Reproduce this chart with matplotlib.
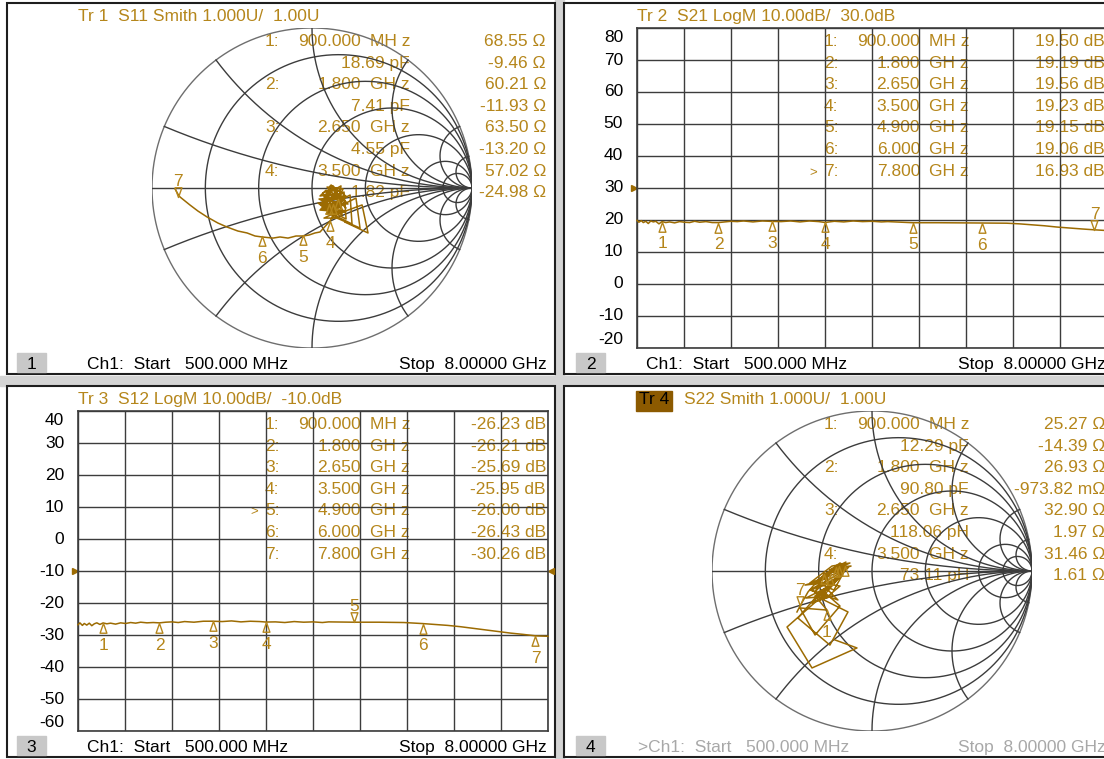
import numpy as np
import matplotlib.pyplot as plt
from matplotlib.patches import Rectangle
from matplotlib.path import Path

plt.rcParams['font.family'] = ['Liberation Sans', 'DejaVu Sans']

W, H = 1104, 759
TXT = '#b5861b'
TRACE = '#9c6b02'
GRID = '#3c3c3c'
FS = 12.5

# marker stimulus, shared by all four traces
marker_freq = [0.9, 1.8, 2.65, 3.5, 4.9, 6.0, 7.8]
freq_text = ['900.000', '1.800', '2.650', '3.500', '4.900', '6.000', '7.800']
freq_unit = ['MH z', 'GH z', 'GH z', 'GH z', 'GH z', 'GH z', 'GH z']

# Tr 1  S11 - marker impedance in ohm (5..7 are off the readout)
s11_mk_r = [68.55, 60.21, 63.50, 57.02, 37.9, 22.4, 4.4]
s11_mk_x = [-9.46, -11.93, -13.20, -24.98, -24.5, -16.6, -1.7]
s11_mk_lc = ['18.69 pF', '7.41 pF', '4.55 pF', '1.82 pF']
s11_re = [0.206, 0.350, 0.313, 0.125, 0.300, 0.275, 0.100, 0.250, 0.238, 0.081,
          0.213, 0.200, 0.069, 0.188, 0.175, 0.063, 0.163,
          0.119, 0.219, 0.044, 0.163, 0.181, 0.081, 0.206, 0.050, 0.150, 0.225,
          0.038, 0.125, 0.194, 0.094, 0.213,
          0.088, 0.050, 0.138, 0.200, 0.113, 0.056, 0.175, 0.144, 0.069, 0.106,
          0.194, 0.094, 0.150, 0.063, 0.106, 0.206, 0.131, 0.075, 0.175, 0.131,
          0.088, 0.194, 0.113, 0.163, 0.075, 0.144, 0.113,
          0.050, 0.019, -0.019, -0.056, -0.100, -0.150, -0.200, -0.244, -0.313, -0.356,
          -0.406, -0.463, -0.531, -0.588, -0.656, -0.713, -0.763, -0.825, -0.838, -0.856]
s11_im = [-0.213, -0.281, -0.106, -0.175, -0.250, -0.063, -0.150, -0.225, -0.044, -0.125,
          -0.194, -0.025, -0.100, -0.169, -0.013, -0.075, -0.069,
          0.019, -0.056, -0.069, -0.131, 0.013, -0.044, -0.150, -0.138, -0.025, -0.100,
          -0.094, -0.163, -0.006, 0.006, -0.125,
          -0.013, -0.050, -0.038, -0.075, 0.013, -0.106, -0.119, 0.000, -0.031, -0.138,
          -0.050, -0.063, -0.150, -0.131, -0.100, -0.106, 0.013, -0.081, -0.088, -0.100,
          -0.163, -0.144, -0.125, -0.188, -0.188, -0.156, -0.206,
          -0.275, -0.281, -0.294, -0.300, -0.300, -0.313, -0.306, -0.313, -0.306, -0.300,
          -0.281, -0.269, -0.244, -0.219, -0.181, -0.144, -0.106, -0.056, -0.038, -0.006]

# Tr 2  S21
s21_freq = [0.5, 0.53, 0.57, 0.6, 0.64, 0.68, 0.72, 0.76, 0.8, 0.85, 0.9, 0.96, 1.02, 1.1,
            1.18, 1.26, 1.34, 1.42, 1.5, 1.6, 1.7, 1.8, 1.9, 2.0, 2.1, 2.2, 2.35, 2.5, 2.65,
            2.8, 2.95, 3.1, 3.25, 3.4, 3.5, 3.65, 3.8, 3.95, 4.1, 4.25, 4.4, 4.5, 4.9, 5.3,
            5.7, 6.0, 6.4, 6.6, 6.8, 7.0, 7.2, 7.4, 7.6, 7.8, 8.0]
s21_db = [19.9, 19.3, 19.8, 19.2, 19.6, 18.9, 19.7, 19.4, 19.6, 18.8, 19.50, 19.2, 19.4, 19.1,
          19.5, 19.3, 19.2, 19.6, 19.3, 19.5, 19.2, 19.19, 19.4, 19.6, 19.5, 19.7, 19.4, 19.7,
          19.56, 19.5, 19.7, 19.4, 19.7, 19.5, 19.23, 19.6, 19.4, 19.7, 19.5, 19.6, 19.4, 19.5,
          19.15, 19.15, 19.1, 19.06, 19.0, 18.8, 18.5, 18.2, 17.8, 17.5, 17.2, 16.93, 16.7]
s21_mk_db = [19.50, 19.19, 19.56, 19.23, 19.15, 19.06, 16.93]

# Tr 3  S12
s12_freq = s21_freq
s12_db = [-26.8, -26.2, -27.0, -26.4, -26.9, -26.3, -27.1, -26.5, -26.2, -26.7, -26.23, -26.5,
          -26.3, -26.6, -26.2, -26.4, -26.1, -26.3, -26.0, -26.2, -26.1, -26.21, -26.0, -25.9,
          -26.1, -25.8, -26.0, -25.7, -25.69, -25.8, -25.6, -25.9, -25.7, -25.8, -25.95, -25.9,
          -26.1, -25.8, -26.0, -25.9, -26.1, -25.9, -26.00, -26.0, -26.1, -26.43, -27.0, -27.4,
          -27.9, -28.4, -28.9, -29.4, -29.8, -30.26, -30.4]
s12_mk_db = [-26.23, -26.21, -25.69, -25.95, -26.00, -26.43, -30.26]

# Tr 4  S22
s22_mk_r = [25.27, 26.93, 32.90, 31.46, 35.5, 29.1, 17.4]
s22_mk_x = [-14.39, -0.97382, 1.97, 1.61, 2.3, -1.6, -10.2]
s22_mk_lc = ['12.29 pF', '90.80 pF', '118.06 pH', '73.11 pH']
s22_re = [-0.231, -0.094, -0.375, -0.531, -0.325, -0.150, -0.263, -0.463, -0.313, -0.200,
          -0.356, -0.450, -0.281,
          -0.356, -0.225, -0.338, -0.188, -0.313, -0.263, -0.150, -0.375, -0.288, -0.200,
          -0.350, -0.238, -0.175, -0.325, -0.275,
          -0.375, -0.250, -0.413, -0.288, -0.213, -0.388, -0.313,
          -0.419, -0.275, -0.356, -0.300, -0.169, -0.388, -0.250, -0.138, -0.288, -0.181,
          -0.206, -0.338, -0.163, -0.263, -0.227, -0.131, -0.300, -0.200, -0.169, -0.325,
          -0.263, -0.363, -0.400, -0.450, -0.469]
s22_im = [-0.431, -0.481, -0.606, -0.350, -0.169, -0.256, -0.463, -0.294, -0.119, -0.219,
          -0.400, -0.231, -0.244,
          -0.156, -0.056, -0.106, -0.025, -0.144, -0.075, 0.019, -0.119, -0.169, -0.094,
          -0.069, -0.119, -0.006, -0.181, -0.094,
          -0.200, -0.156, -0.169, -0.106, -0.181, -0.119, -0.075,
          -0.088, -0.044, -0.131, -0.017, 0.006, -0.075, 0.031, 0.050, -0.019, 0.025,
          0.029, -0.056, 0.056, 0.006, 0.024, 0.031, -0.025, 0.050, 0.031, -0.044,
          -0.025, -0.088, -0.131, -0.219, -0.256]

fig = plt.figure(figsize=(W / 100, H / 100), dpi=100)
bg = fig.add_axes([0, 0, 1, 1])
bg.set_xlim(0, W)
bg.set_ylim(H, 0)
bg.axis('off')


def px_rect(x0, y0, x1, y1):
    return [x0 / W, 1 - y1 / H, (x1 - x0) / W, (y1 - y0) / H]


def ohm(v):
    if abs(v) < 1:
        return f'{v * 1000:.2f} m\u03a9'
    return f'{v:.2f} \u03a9'


# triangle marker with its tip on the point, body below or above it
TRI_BELOW = Path([(0, 0), (-0.35, -1), (0.35, -1), (0, 0)], closed=True)
TRI_ABOVE = Path([(0, 0), (-0.35, 1), (0.35, 1), (0, 0)], closed=True)


def draw_markers(ax, xs, ys, above, labelled=None):
    for i, (x, y) in enumerate(zip(xs, ys)):
        up = (i + 1) in above
        ax.plot(x, y, marker=TRI_ABOVE if up else TRI_BELOW, ms=14, mfc='none',
                mec=TXT, mew=1, clip_on=False, zorder=5)
        # numbers buried inside a dense trace cluster are left off
        if labelled is not None and (i + 1) not in labelled:
            continue
        ax.annotate(str(i + 1), (x, y), xytext=(0, 11 if up else -16),
                    textcoords='offset points', ha='center', va='center',
                    color=TXT, fontsize=FS, zorder=3)


# separator bands between the four windows
bg.add_patch(Rectangle((555, 0), 9, H, color='#d4d4d4', zorder=0))
bg.add_patch(Rectangle((0, 376), W, 10, color='#d4d4d4', zorder=0))
for x0, y0 in [(7, 3), (564, 3), (7, 386), (564, 386)]:
    bg.add_patch(Rectangle((x0, y0), 548, 371, facecolor='white',
                           edgecolor='#1e1e1e', lw=1.5, zorder=1))

for k, (ox, oy) in enumerate([(0, 0), (559, 0), (0, 383), (559, 383)]):
    bg.add_patch(Rectangle((ox + 17, oy + 353), 29, 19, color='#c8c8c8', zorder=2))
    bg.text(ox + 31.5, oy + 369, str(k + 1), ha='center', va='baseline', fontsize=FS,
            color='black', zorder=3)
    fc = '#a8a8a8' if k == 3 else 'black'
    start = '>Ch1:  Start   500.000 MHz' if k == 3 else 'Ch1:  Start   500.000 MHz'
    bg.text(ox + (79 if k == 3 else 87), oy + 369, start, fontsize=FS, color=fc,
            va='baseline', zorder=3)
    bg.text(ox + 547, oy + 369, 'Stop  8.00000 GHz', fontsize=FS, color=fc,
            ha='right', va='baseline', zorder=3)

# trace headers
bg.text(78, 21, 'Tr 1  S11 Smith 1.000U/  1.00U', fontsize=FS, color=TXT, va='baseline')
bg.text(637, 21, 'Tr 2  S21 LogM 10.00dB/  30.0dB', fontsize=FS, color=TXT, va='baseline')
bg.text(78, 404, 'Tr 3  S12 LogM 10.00dB/  -10.0dB', fontsize=FS, color=TXT, va='baseline')
bg.add_patch(Rectangle((636, 391), 36, 20, color='#8c5a00', zorder=2))
bg.text(639, 404, 'Tr 4', fontsize=FS, color='black', va='baseline', zorder=3)
bg.text(684, 404, 'S22 Smith 1.000U/  1.00U', fontsize=FS, color=TXT, va='baseline')

ROW = 21.6


def readout_logm(ox, oy, vals, active):
    for i, v in enumerate(vals):
        yb = oy + 46 + i * ROW
        bg.text(ox + 265, yb, f'{i + 1}:', fontsize=FS, color=TXT, va='baseline', zorder=3)
        bg.text(ox + 361, yb, freq_text[i], fontsize=FS, color=TXT, ha='right', va='baseline', zorder=3)
        bg.text(ox + 370, yb, freq_unit[i], fontsize=FS, color=TXT, va='baseline', zorder=3)
        bg.text(ox + 546, yb, f'{v:.2f} dB', fontsize=FS, color=TXT, ha='right', va='baseline', zorder=3)
        if i + 1 == active:
            bg.text(ox + 258, yb, '>', fontsize=FS - 3, color=TXT, ha='right', va='baseline', zorder=3)


def readout_smith(ox, oy, rs, xs, lcs):
    for i in range(len(lcs)):
        yb = oy + 46 + 2 * i * ROW
        bg.text(ox + 265, yb, f'{i + 1}:', fontsize=FS, color=TXT, va='baseline', zorder=3)
        bg.text(ox + 361, yb, freq_text[i], fontsize=FS, color=TXT, ha='right', va='baseline', zorder=3)
        bg.text(ox + 370, yb, freq_unit[i], fontsize=FS, color=TXT, va='baseline', zorder=3)
        bg.text(ox + 546, yb, ohm(rs[i]), fontsize=FS, color=TXT, ha='right', va='baseline', zorder=3)
        bg.text(ox + 410, yb + ROW, lcs[i], fontsize=FS, color=TXT, ha='right', va='baseline', zorder=3)
        bg.text(ox + 546, yb + ROW, ohm(xs[i]), fontsize=FS, color=TXT, ha='right', va='baseline', zorder=3)


readout_smith(0, 0, s11_mk_r, s11_mk_x, s11_mk_lc)
readout_logm(559, 0, s21_mk_db, 7)
readout_logm(0, 383, s12_mk_db, 5)
readout_smith(559, 383, s22_mk_r, s22_mk_x, s22_mk_lc)


def logm_panel(box, ref, freq, db, mk_db, active, right_ref=False):
    ax = fig.add_axes(px_rect(*box))
    ax.set_facecolor('none')
    ax.set_xlim(0.5, 8)
    ax.set_ylim(ref - 50, ref + 50)
    ax.set_xticks(np.linspace(0.5, 8, 11))
    ticks = np.arange(ref - 50, ref + 51, 10)
    ax.set_yticks(ticks)
    ax.grid(True, color=GRID, lw=1)
    ax.tick_params(length=0, labelbottom=False, labelleft=False)
    for s in ax.spines.values():
        s.set_color(GRID)
        s.set_linewidth(1.2)
    for t in ticks:
        dy = -6.5 if t == ticks[-1] else (6 if t == ticks[0] else 0)
        ax.annotate(f'{t:.0f}', (0, t), xycoords=ax.get_yaxis_transform(),
                    xytext=(-10, dy), textcoords='offset points', ha='right',
                    va='center', fontsize=FS, color='black', annotation_clip=False)
    ax.plot([-0.006], [ref], marker='>', ms=4, color=TRACE,
            transform=ax.get_yaxis_transform(), clip_on=False)
    if right_ref:
        ax.plot([1.006], [ref], marker='<', ms=4, color=TRACE,
                transform=ax.get_yaxis_transform(), clip_on=False)
    ax.plot(freq, db, color=TRACE, lw=1.1, clip_on=False, zorder=4)
    draw_markers(ax, marker_freq, mk_db, [active])
    return ax


logm_panel((637, 28, 1107, 348), 30, s21_freq, s21_db, s21_mk_db, 7)
logm_panel((78, 411, 548, 731), -10, s12_freq, s12_db, s12_mk_db, 5, right_ref=True)


def smith_panel(cx, cy, re, im, mk_r, mk_x, above, labelled):
    ax = fig.add_axes(px_rect(cx - 160, cy - 160, cx + 160, cy + 160))
    ax.set_facecolor('none')
    ax.set_xlim(-1, 1)
    ax.set_ylim(-1, 1)
    ax.axis('off')
    th = np.linspace(0, 2 * np.pi, 500)
    ax.plot(np.cos(th), np.sin(th), color='#6e6e6e', lw=1)
    ax.plot([-1, 1], [0, 0], color=GRID, lw=1)
    t = np.geomspace(1e-3, 1e4, 1500)
    xs = np.concatenate([-t[::-1], [0], t])
    for r in [0.2, 0.5, 1, 2, 5, 10]:
        g = (r + 1j * xs - 1) / (r + 1j * xs + 1)
        ax.plot(g.real, g.imag, color=GRID, lw=1)
    rr = np.concatenate([[0], t])
    for x in [0.2, 0.5, 1, 2, 5, 10]:
        for sgn in (1, -1):
            g = (rr + 1j * sgn * x - 1) / (rr + 1j * sgn * x + 1)
            ax.plot(g.real, g.imag, color=GRID, lw=1)
    ax.plot(re, im, color=TRACE, lw=1.1, zorder=4)
    z = (np.array(mk_r) + 1j * np.array(mk_x)) / 50
    g = (z - 1) / (z + 1)
    draw_markers(ax, g.real, g.imag, above, labelled)
    return ax


smith_panel(312, 188, s11_re, s11_im, s11_mk_r, s11_mk_x, [7], [4, 5, 6, 7])
smith_panel(872, 571, s22_re, s22_im, s22_mk_r, s22_mk_x, [7], [1, 7])

fig.savefig('out.png', dpi=100)
